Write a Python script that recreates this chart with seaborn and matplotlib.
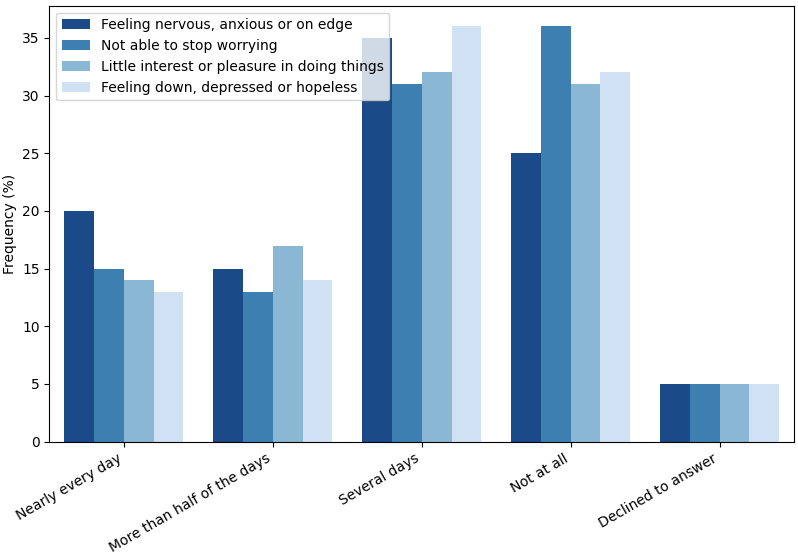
import pandas as pd
import matplotlib
matplotlib.use('Agg')
import matplotlib.pyplot as plt
import seaborn as sns

# Response categories and the four questions
categories = ['Nearly every day', 'More than half of the days', 'Several days',
              'Not at all', 'Declined to answer']
questions = ['Feeling nervous, anxious or on edge',
             'Not able to stop worrying',
             'Little interest or pleasure in doing things',
             'Feeling down, depressed or hopeless']

nervous = [20, 15, 35, 25, 5]
worrying = [15, 13, 31, 36, 5]
interest = [14, 17, 32, 31, 5]
down = [13, 14, 36, 32, 5]

# Long-form table for seaborn
rows = []
for q, vals in zip(questions, [nervous, worrying, interest, down]):
    for c, v in zip(categories, vals):
        rows.append({'Response': c, 'Question': q, 'Frequency': v})
df = pd.DataFrame(rows)

colors = ['#1a4a87', '#3d7fb0', '#8ab8d4', '#cfe1f3']

fig, ax = plt.subplots(figsize=(7.98, 5.59), dpi=100)
sns.barplot(data=df, x='Response', y='Frequency', hue='Question',
            palette=colors, saturation=1, ax=ax)

ax.set_xlabel('')
ax.set_ylabel('Frequency (%)')
plt.setp(ax.get_xticklabels(), rotation=30, ha='right')
ax.legend(loc='upper left', title=None)

plt.subplots_adjust(left=0.062, right=0.995, top=0.99, bottom=0.21)
plt.savefig('out.png', dpi=100)
